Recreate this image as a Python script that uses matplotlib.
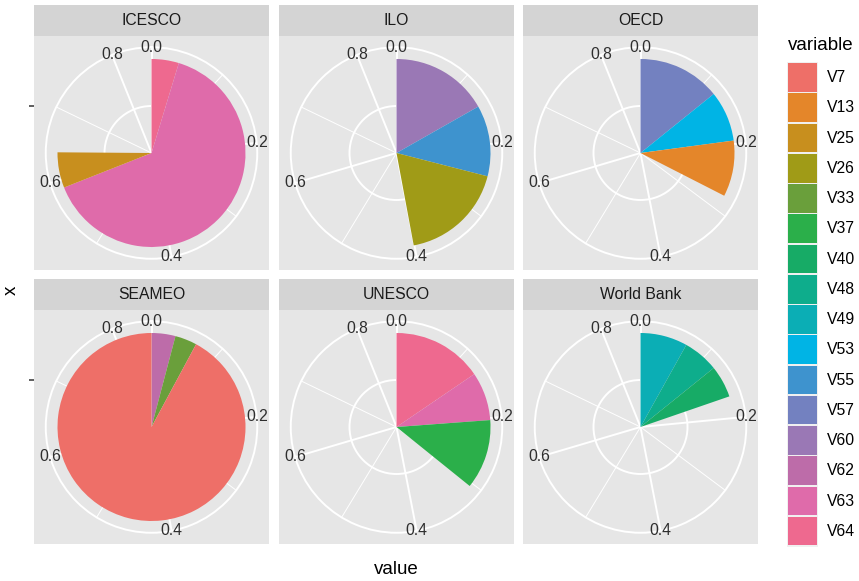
import numpy as np
import matplotlib
matplotlib.use("Agg")
import matplotlib.pyplot as plt
from matplotlib.patches import Rectangle
from matplotlib.ticker import FixedLocator

plt.rcParams["font.family"] = ["Liberation Sans", "DejaVu Sans"]

# legend levels and their fill colours
variables = ["V7", "V13", "V25", "V26", "V33", "V37", "V40", "V48",
             "V49", "V53", "V55", "V57", "V60", "V62", "V63", "V64"]
fills = ["#EE6F68", "#E4862A", "#C88F1E", "#A09B17", "#6A9F3B", "#2BAF4A",
         "#17AB66", "#0EAD8C", "#0BAEB5", "#00B4E5", "#3E93CE", "#7381C0",
         "#9A78B5", "#BD6CA9", "#DF6BAA", "#EE698F"]

# values per organisation
organisations = ["ICESCO", "ILO", "OECD", "SEAMEO", "UNESCO", "World Bank"]
icesco = {"V25": 0.052, "V63": 0.548, "V64": 0.040}
ilo = {"V26": 0.154, "V55": 0.104, "V60": 0.143}
oecd = {"V13": 0.082, "V53": 0.074, "V57": 0.121}
seameo = {"V7": 0.785, "V33": 0.032, "V62": 0.035}
unesco = {"V37": 0.102, "V63": 0.071, "V64": 0.132}
world_bank = {"V40": 0.047, "V48": 0.052, "V49": 0.069}
facet_data = [icesco, ilo, oecd, seameo, unesco, world_bank]

theta_breaks = [0.0, 0.2, 0.4, 0.6, 0.8]
theta_minor = [0.1, 0.3, 0.5, 0.7]

W, H = 859, 581
fig = plt.figure(figsize=(W / 100, H / 100), dpi=100)


def box(x0, y0, x1, y1):
    return [x0 / W, 1 - y1 / H, (x1 - x0) / W, (y1 - y0) / H]


cols = [(34, 269), (279, 514), (523, 758)]
rows = [(36, 270), (310, 544)]
strips = [(5, 36), (279, 310)]

theta_max = max(sum(d.values()) for d in facet_data)
to_rad = 2 * np.pi / theta_max

for i, (org, data) in enumerate(zip(organisations, facet_data)):
    r, c = divmod(i, 3)
    x0, x1 = cols[c]
    y0, y1 = rows[r]

    # strip
    st = fig.add_axes(box(x0, strips[r][0], x1, strips[r][1]))
    st.set_facecolor("#D4D4D4")
    st.set_xticks([]); st.set_yticks([])
    for s in st.spines.values():
        s.set_visible(False)
    st.text(0.5, 0.5, org, ha="center", va="center", fontsize=11.3, color="#1A1A1A")

    # panel background
    bg = fig.add_axes(box(x0, y0, x1, y1))
    bg.set_facecolor("#E6E6E6")
    bg.set_xlim(0, 1); bg.set_ylim(0, 1)
    bg.set_xticks([])
    for s in bg.spines.values():
        s.set_visible(False)
    if c == 0:
        bg.set_yticks([0.7])
        bg.set_yticklabels([""])
        bg.tick_params(axis="y", length=3.6, width=1.1, color="#333333")
    else:
        bg.set_yticks([])

    # polar panel, outer circle at r = 0.45 of panel width
    cx, cy = (x0 + x1) / 2, (y0 + y1) / 2
    half = 0.45 * (x1 - x0)
    ax = fig.add_axes(box(cx - half, cy - half, cx + half, cy + half), projection="polar")
    ax.set_facecolor("none")
    ax.set_theta_zero_location("N")
    ax.set_theta_direction(-1)
    ax.set_ylim(0, 0.45)
    ax.set_axisbelow(True)

    ax.set_xticks([b * to_rad for b in theta_breaks])
    ax.xaxis.set_minor_locator(FixedLocator([m * to_rad for m in theta_minor]))
    ax.set_xticklabels([])
    ax.set_yticks([0.2])
    ax.set_yticklabels([])
    ax.tick_params(which="both", length=0)
    ax.grid(True, which="major", color="white", linewidth=1.4)
    ax.xaxis.grid(True, which="minor", color="white", linewidth=0.7)
    ax.spines["polar"].set_color("white")
    ax.spines["polar"].set_linewidth(1.4)

    # stacked segments: last level sits nearest 0
    start = 0.0
    for var in reversed(variables):
        if var not in data:
            continue
        v = data[var]
        ax.bar(start * to_rad, 0.4, width=v * to_rad, bottom=0, align="edge",
               color=fills[variables.index(var)], linewidth=0)
        start += v

    for b in theta_breaks:
        ax.text(b * to_rad, 0.45, f"{b:.1f}", ha="center", va="center",
                fontsize=11.3, color="#2E2E2E", clip_on=False)

# axis titles
fig.text(11.7 / W, 1 - 290 / H, "x", rotation=90, ha="center", va="center", fontsize=13.5)
fig.text(396 / W, 1 - 569 / H, "value", ha="center", va="center", fontsize=13.5)

# legend
lg = fig.add_axes([0, 0, 1, 1])
lg.set_xlim(0, W); lg.set_ylim(H, 0)
lg.axis("off")
lg.patch.set_alpha(0)
lg.text(787.5, 45, "variable", ha="left", va="center", fontsize=13.5)
step = 30.24
top = 62.0
lg.add_patch(Rectangle((787, top), 31, step * len(variables) + 1, color="#F0F0F0", lw=0))
for k, (var, col) in enumerate(zip(variables, fills)):
    yk = top + k * step
    lg.add_patch(Rectangle((788, yk + 1.2), 28.5, step - 1.6, facecolor=col,
                           edgecolor="none"))
    lg.text(826.5, yk + step / 2 + 0.6, var, ha="left", va="center", fontsize=11.3)

fig.savefig("out.png", dpi=100)
